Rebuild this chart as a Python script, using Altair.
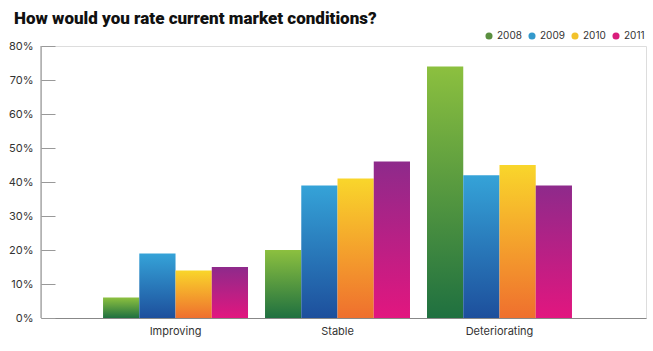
import altair as alt
import pandas as pd

categories = ["Improving", "Stable", "Deteriorating"]
years = ["2008", "2009", "2010", "2011"]
values = {
    "2008": [0.06, 0.20, 0.74],
    "2009": [0.19, 0.39, 0.42],
    "2010": [0.14, 0.41, 0.45],
    "2011": [0.15, 0.46, 0.39],
}
legend_colors = ["#5a8f3f", "#3399cc", "#f2c22c", "#d91e7c"]
gradients = {
    "2008": ("#8cc03f", "#1f7040"),
    "2009": ("#35a3d8", "#1d4f9c"),
    "2010": ("#f9d62b", "#ef6f2e"),
    "2011": ("#8e2a8b", "#e2167f"),
}
tick_values = [0, 0.1, 0.2, 0.3, 0.4, 0.5, 0.6, 0.7, 0.8]

rows = []
for y in years:
    for c, v in zip(categories, values[y]):
        rows.append({"category": c, "year": y, "value": v})
df = pd.DataFrame(rows)

FONT = "Inter"
W, H = 605, 272

x_enc = alt.X("category:N", sort=categories,
              scale=alt.Scale(paddingInner=0.105, paddingOuter=0.42, align=0.456),
              axis=alt.Axis(title=None, labelAngle=0, ticks=False, domain=True,
                            domainColor="#888888", domainWidth=1,
                            labelFont=FONT, labelFontSize=11, labelColor="#333333",
                            labelPadding=7))
xo_enc = alt.XOffset("year:N", scale=alt.Scale(domain=years, paddingInner=0, paddingOuter=0))
y_enc = alt.Y("value:Q", scale=alt.Scale(domain=[0, 0.8], nice=False),
              axis=alt.Axis(title=None, format=".0%", values=tick_values,
                            labelOverlap=False,
                            domain=False, grid=False, tickSize=14, tickColor="#999999",
                            offset=-14, labelPadding=8,
                            labelFont=FONT, labelFontSize=11, labelColor="#333333"))

base = alt.Chart(df)

legend_layer = base.transform_calculate(value="0").mark_bar().encode(
    x=x_enc, xOffset=xo_enc, y=y_enc,
    color=alt.Color("year:N", scale=alt.Scale(domain=years, range=legend_colors),
                    legend=alt.Legend(title=None, orient="none", direction="horizontal",
                                      legendX=443, legendY=-15, symbolType="circle",
                                      symbolSize=50, columnPadding=5, labelFont=FONT,
                                      labelFontSize=10, labelColor="#333333",
                                      symbolOffset=0, labelOffset=3)),
)

layers = [legend_layer]
for y in years:
    top, bot = gradients[y]
    grad = alt.Gradient(gradient="linear",
                        stops=[alt.GradientStop(color=top, offset=0),
                               alt.GradientStop(color=bot, offset=1)],
                        x1=0, x2=0, y1=0, y2=1)
    layers.append(
        base.transform_filter(alt.datum.year == y).mark_bar(color=grad).encode(
            x=x_enc, xOffset=xo_enc, y=y_enc
        )
    )

axis_line = alt.Chart(pd.DataFrame({"a": [0]})).mark_rule(color="#888888", strokeWidth=1).encode(
    x=alt.value(0), y=alt.value(0), y2=alt.value(H)
)
layers.append(axis_line)

chart = alt.layer(*layers).properties(
    width=W, height=H,
    title=alt.Title("How would you rate current market conditions?", anchor="start",
                    frame="group", font="Roboto", fontSize=17, fontWeight=900,
                    color="#111111", dx=-27, offset=3),
    padding={"left": 41, "top": 46, "right": 7, "bottom": 33},
    autosize=alt.AutoSizeParams(type="none"),
).configure_view(stroke=None).configure(background="white")

chart.save("out.html", embed_options={"renderer": "svg", "actions": False})
